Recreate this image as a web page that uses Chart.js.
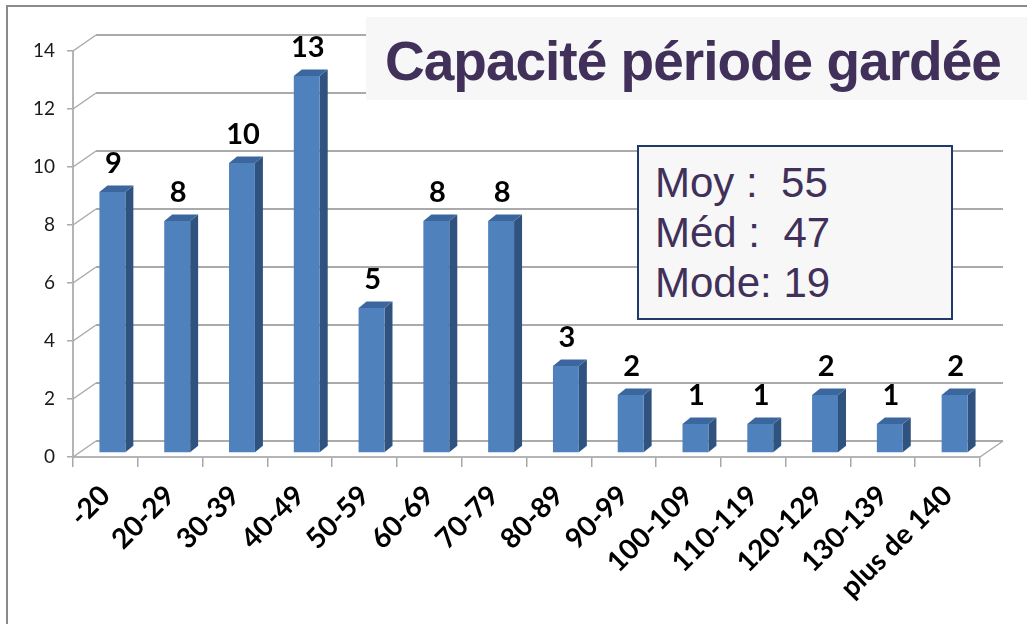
<!DOCTYPE html>
<html lang="fr">
<head>
    <meta charset="UTF-8">
    <title>Capacité période gardée</title>
    <script src="https://cdn.jsdelivr.net/npm/chart.js"></script>
    <style>
        html, body { margin: 0; padding: 0; background: #fff; }
        #wrap { position: relative; width: 1027px; height: 624px; overflow: hidden; }
        #chart { position: absolute; left: 0; top: 0; }
        #frame {
            position: absolute; left: 6px; top: 5px; width: 1100px; height: 700px;
            border-top: 2px solid #8a8a8a; border-left: 2px solid #8a8a8a;
            pointer-events: none;
        }
        #title {
            position: absolute; left: 366px; top: 17px; width: 661px; height: 83px;
            background: #f7f7f7; box-sizing: border-box; padding: 17px 0 0 19px;
            font: bold 55px/55px "Liberation Sans", Arial, sans-serif;
            letter-spacing: -1px; color: #40305a; white-space: nowrap;
        }
        #stats {
            position: absolute; left: 637px; top: 145px; width: 316px; height: 175px;
            box-sizing: border-box; border: 2px solid #1f3a68; background: #f7f7f7;
            padding: 11px 0 0 16px;
            font: 42px/50px "Liberation Sans", Arial, sans-serif;
            color: #40305a; white-space: pre;
        }
    </style>
</head>
<body>
<div id="wrap">
    <canvas id="chart" width="1027" height="624"></canvas>
    <div id="frame"></div>
    <div id="title">Capacité période gardée</div>
    <div id="stats"></div>
</div>

<script>
    // data
    const categories = ['-20', '20-29', '30-39', '40-49', '50-59', '60-69', '70-79',
        '80-89', '90-99', '100-109', '110-119', '120-129', '130-139', 'plus de 140'];
    const counts = [9, 8, 10, 13, 5, 8, 8, 3, 2, 1, 1, 2, 1, 2];
    const yTicks = [0, 2, 4, 6, 8, 10, 12, 14];
    const statLines = ['Moy :  55', 'Méd :  47', 'Mode: 19'];

    document.getElementById('stats').textContent = statLines.join('\n');

    // fake 3d: back wall offset and bar depth
    const WALL_DX = 23, WALL_DY = 16;
    const BAR_OX = 7, BAR_OY = -4;
    const BAR_DX = 8, BAR_DY = 6.5;

    const wall3d = {
        id: 'wall3d',
        beforeDatasetsDraw(chart) {
            const ctx = chart.ctx;
            const y = chart.scales.y;
            const area = chart.chartArea;
            ctx.save();
            ctx.lineWidth = 1.5;
            yTicks.forEach(v => {
                const py = y.getPixelForValue(v);
                ctx.strokeStyle = '#a8a8a8';
                ctx.beginPath();
                ctx.moveTo(area.left, py);
                ctx.lineTo(area.left + WALL_DX, py - WALL_DY);
                ctx.stroke();
                ctx.strokeStyle = '#8e8e8e';
                ctx.beginPath();
                ctx.moveTo(area.left + WALL_DX, py - WALL_DY);
                ctx.lineTo(area.right + WALL_DX, py - WALL_DY);
                ctx.stroke();
            });
            // right edge of the floor
            const p0 = y.getPixelForValue(0);
            ctx.strokeStyle = '#a8a8a8';
            ctx.beginPath();
            ctx.moveTo(area.right, p0);
            ctx.lineTo(area.right + WALL_DX, p0 - WALL_DY);
            ctx.stroke();
            ctx.restore();
        },
        afterDatasetsDraw(chart) {
            const ctx = chart.ctx;
            const meta = chart.getDatasetMeta(0);
            ctx.save();
            meta.data.forEach((bar, i) => {
                const p = bar.getProps(['x', 'y', 'base', 'width'], true);
                const l = p.x - p.width / 2 + BAR_OX;
                const r = p.x + p.width / 2 + BAR_OX;
                const t = p.y + BAR_OY;
                const b = p.base + BAR_OY;
                // side
                ctx.fillStyle = '#30527f';
                ctx.beginPath();
                ctx.moveTo(r, t);
                ctx.lineTo(r + BAR_DX, t - BAR_DY);
                ctx.lineTo(r + BAR_DX, b - BAR_DY);
                ctx.lineTo(r, b);
                ctx.closePath();
                ctx.fill();
                // top
                ctx.fillStyle = '#3c679e';
                ctx.beginPath();
                ctx.moveTo(l, t);
                ctx.lineTo(l + BAR_DX, t - BAR_DY);
                ctx.lineTo(r + BAR_DX, t - BAR_DY);
                ctx.lineTo(r, t);
                ctx.closePath();
                ctx.fill();
                // front
                ctx.fillStyle = '#4f81bd';
                ctx.fillRect(l, t, r - l, b - t);
                // value label
                ctx.fillStyle = '#000';
                ctx.font = 'bold 29px Lato, "Open Sans", sans-serif';
                ctx.textAlign = 'center';
                ctx.textBaseline = 'alphabetic';
                ctx.fillText(String(counts[i]), (l + r) / 2 + 1, t - 19);
            });
            ctx.restore();
        }
    };

    new Chart(document.getElementById('chart'), {
        type: 'bar',
        data: {
            labels: categories,
            datasets: [{
                data: counts,
                backgroundColor: 'rgba(0,0,0,0)',
                borderWidth: 0,
                barPercentage: 0.5,
                categoryPercentage: 0.8
            }]
        },
        options: {
            responsive: false,
            animation: false,
            layout: { padding: { left: 7, top: 51, right: 47, bottom: 0 } },
            plugins: {
                legend: { display: false },
                tooltip: { enabled: false },
                title: { display: false }
            },
            scales: {
                x: {
                    afterFit: s => { s.height = 167; },
                    grid: {
                        offset: true,
                        drawOnChartArea: false,
                        tickLength: 10,
                        color: '#a8a8a8',
                        lineWidth: 1.5
                    },
                    border: { color: '#b4b4b4', width: 2 },
                    ticks: {
                        autoSkip: false,
                        minRotation: 45,
                        maxRotation: 45,
                        padding: 12,
                        color: '#000',
                        font: { family: 'Lato, "Open Sans", sans-serif', size: 28, weight: 'bold' }
                    }
                },
                y: {
                    min: 0,
                    max: 14,
                    afterFit: s => { s.width = 66; },
                    afterBuildTicks: s => { s.ticks = yTicks.map(v => ({ value: v })); },
                    grid: {
                        drawOnChartArea: false,
                        tickLength: 6,
                        color: '#a8a8a8',
                        lineWidth: 1.5
                    },
                    border: { color: '#b4b4b4', width: 2 },
                    ticks: {
                        padding: 12,
                        color: '#1a1a1a',
                        font: { family: 'Lato, "Open Sans", sans-serif', size: 19 }
                    }
                }
            }
        },
        plugins: [wall3d]
    });
</script>
</body>
</html>
